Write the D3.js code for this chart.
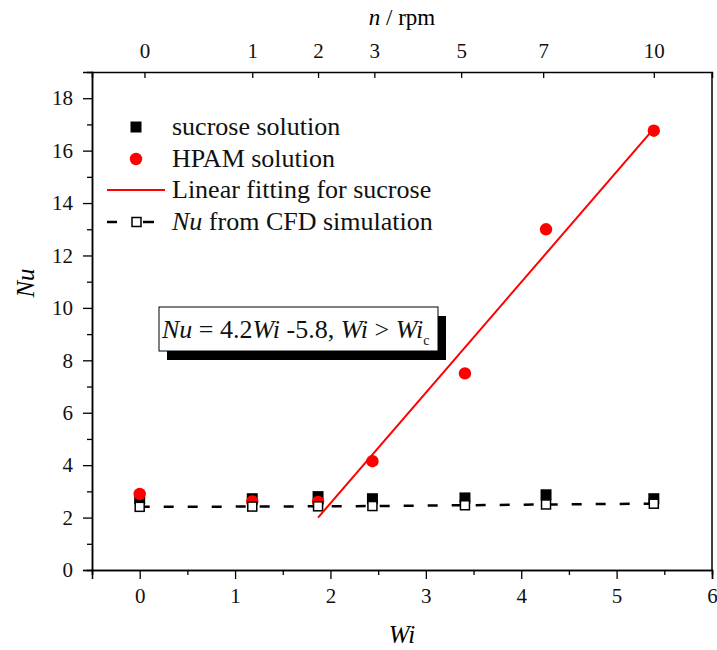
<!DOCTYPE html>
<html>
<head>
<meta charset="utf-8">
<script src="https://cdn.jsdelivr.net/npm/d3@7"></script>
<style>
  body { margin: 0; background: #fff; }
  svg text { font-family: "Liberation Serif", "Times New Roman", Times, serif; }
</style>
</head>
<body>
<svg id="chart" width="717" height="650"></svg>
<script>
// data
const wi = [0, 1.18, 1.87, 2.44, 3.41, 4.26, 5.39];
const sucrose = [2.72, 2.72, 2.8, 2.72, 2.75, 2.87, 2.72];
const hpam = [2.9, 2.62, 2.6, 4.15, 7.5, 13.0, 16.76];
const cfd = [2.41, 2.42, 2.43, 2.44, 2.47, 2.5, 2.53];
const fitWi = [1.87, 5.39];
const fitNu = [2.0, 16.84];
const topTickWi = [0.05, 1.18, 1.87, 2.46, 3.37, 4.23, 5.39];
const topTickLabels = ["0", "1", "2", "3", "5", "7", "10"];
const legendLabels = ["sucrose solution", "HPAM solution", "Linear fitting for sucrose", "from CFD simulation"];

const svg = d3.select("#chart");
const margin = { top: 72, right: 5, bottom: 80, left: 92 };
const width = 717 - margin.left - margin.right;
const height = 650 - margin.top - margin.bottom;

const x = d3.scaleLinear().domain([-0.5, 6]).range([0, width]);
const y = d3.scaleLinear().domain([0, 19]).range([height, 0]);

const g = svg.append("g").attr("transform", `translate(${margin.left},${margin.top})`);

// minor ticks first, then major with labels
g.append("g")
  .attr("transform", `translate(0,${height})`)
  .call(d3.axisBottom(x).tickValues(d3.range(-0.5, 6.01, 1)).tickSize(5).tickFormat(""));
g.append("g")
  .attr("transform", `translate(0,${height})`)
  .call(d3.axisBottom(x).tickValues(d3.range(0, 7)).tickSize(9).tickPadding(9).tickFormat(d3.format("d")));
g.append("g")
  .call(d3.axisLeft(y).tickValues(d3.range(1, 19, 2)).tickSize(5).tickFormat(""));
g.append("g")
  .call(d3.axisLeft(y).tickValues(d3.range(0, 19, 2)).tickSize(9).tickPadding(10).tickFormat(d3.format("d")));
g.append("g")
  .call(d3.axisTop(x).tickValues(topTickWi).tickSize(-6).tickPadding(14)
    .tickFormat((d, i) => topTickLabels[i]));
g.append("line").attr("class", "frame").attr("x1", width).attr("x2", width).attr("y1", 0).attr("y2", height);

g.selectAll(".domain").attr("stroke", "#000").attr("stroke-width", 1.5);
g.selectAll(".tick line").attr("stroke", "#000").attr("stroke-width", 1.3);
g.selectAll(".frame").attr("stroke", "#000").attr("stroke-width", 1.5);
g.selectAll(".tick text").attr("font-size", 21).attr("fill", "#111");

// axis titles
svg.append("text")
  .attr("x", margin.left + x(2.75)).attr("y", 643)
  .attr("text-anchor", "middle").attr("font-size", 25).attr("font-style", "italic")
  .text("Wi");
svg.append("text")
  .attr("transform", "translate(34,283) rotate(-90)")
  .attr("text-anchor", "middle").attr("font-size", 25).attr("font-style", "italic")
  .text("Nu");
const topTitle = svg.append("text")
  .attr("x", margin.left + x(2.75)).attr("y", 25)
  .attr("text-anchor", "middle").attr("font-size", 23);
topTitle.append("tspan").attr("font-style", "italic").text("n");
topTitle.append("tspan").text(" / rpm");

// CFD dashed line
const line = d3.line().x(d => x(d[0])).y(d => y(d[1]));
g.append("path")
  .datum(wi.map((d, i) => [d, cfd[i]]))
  .attr("d", line)
  .attr("fill", "none").attr("stroke", "#000").attr("stroke-width", 2.5)
  .attr("stroke-dasharray", "10,14");

// sucrose squares
const sq = 11;
g.selectAll(".suc").data(wi).join("rect")
  .attr("x", d => x(d) - sq / 2)
  .attr("y", (d, i) => y(sucrose[i]) - sq / 2)
  .attr("width", sq).attr("height", sq).attr("fill", "#000");

// HPAM circles
g.selectAll(".hpam").data(wi).join("circle")
  .attr("cx", d => x(d))
  .attr("cy", (d, i) => y(hpam[i]))
  .attr("r", 6.2).attr("fill", "#f00");

// CFD open squares
const oq = 9;
g.selectAll(".cfd").data(wi).join("rect")
  .attr("x", d => x(d) - oq / 2)
  .attr("y", (d, i) => y(cfd[i]) - oq / 2)
  .attr("width", oq).attr("height", oq)
  .attr("fill", "#fff").attr("stroke", "#000").attr("stroke-width", 1.5);

// linear fit
g.append("path")
  .datum(fitWi.map((d, i) => [d, fitNu[i]]))
  .attr("d", line)
  .attr("fill", "none").attr("stroke", "#f00").attr("stroke-width", 2);

// legend
const legend = svg.append("g");
const ly = [127, 159, 190, 222];
legend.append("rect").attr("x", 130.5).attr("y", ly[0] - 5.5).attr("width", 11).attr("height", 11).attr("fill", "#000");
legend.append("circle").attr("cx", 136).attr("cy", ly[1]).attr("r", 6.2).attr("fill", "#f00");
legend.append("line").attr("x1", 107).attr("x2", 165).attr("y1", ly[2]).attr("y2", ly[2])
  .attr("stroke", "#f00").attr("stroke-width", 2);
legend.append("line").attr("x1", 107).attr("x2", 117).attr("y1", ly[3]).attr("y2", ly[3])
  .attr("stroke", "#000").attr("stroke-width", 2.5);
legend.append("line").attr("x1", 143).attr("x2", 154).attr("y1", ly[3]).attr("y2", ly[3])
  .attr("stroke", "#000").attr("stroke-width", 2.5);
legend.append("rect").attr("x", 132).attr("y", ly[3] - 4.5).attr("width", 9).attr("height", 9)
  .attr("fill", "#fff").attr("stroke", "#000").attr("stroke-width", 1.5);
legendLabels.forEach((t, i) => {
  const txt = legend.append("text").attr("x", 172).attr("y", ly[i] + 8).attr("font-size", 26).attr("fill", "#111");
  if (i === 3) {
    txt.append("tspan").attr("font-style", "italic").text("Nu");
    txt.append("tspan").text(" " + t);
  } else {
    txt.text(t);
  }
});

// equation box with shadow
const box = svg.append("g");
box.append("rect").attr("x", 167).attr("y", 316).attr("width", 279).attr("height", 44).attr("fill", "#000");
box.append("rect").attr("x", 159).attr("y", 307).attr("width", 279).attr("height", 44)
  .attr("fill", "#fff").attr("stroke", "#000").attr("stroke-width", 1);
const eq = box.append("text").attr("x", 162).attr("y", 338).attr("font-size", 26).attr("fill", "#111");
eq.append("tspan").attr("font-style", "italic").text("Nu");
eq.append("tspan").text(" = 4.2");
eq.append("tspan").attr("font-style", "italic").text("Wi");
eq.append("tspan").text(" -5.8, ");
eq.append("tspan").attr("font-style", "italic").text("Wi");
eq.append("tspan").text(" > ");
eq.append("tspan").attr("font-style", "italic").text("Wi");
eq.append("tspan").attr("font-size", 14).attr("dy", 7).text("c");
</script>
</body>
</html>
